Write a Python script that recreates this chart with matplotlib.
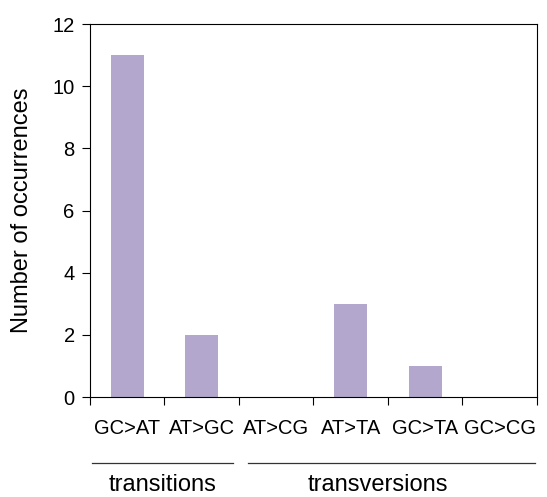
import matplotlib
matplotlib.use("Agg")
import matplotlib.pyplot as plt
import numpy as np

plt.rcParams['font.family'] = ['Liberation Sans', 'DejaVu Sans']

# mutation classes and counts
categories = ["GC>AT", "AT>GC", "AT>CG", "AT>TA", "GC>TA", "GC>CG"]
counts = [11, 2, 0, 3, 1, 0]
groups = ["transitions", "transversions"]
group_sizes = [2, 4]
yticks = [0, 2, 4, 6, 8, 10, 12]

bar_color = "#b4a7ce"

fig = plt.figure(figsize=(5.47, 4.97), dpi=100)
ax = fig.add_axes([0.1645, 0.2012, 0.8172, 0.7505])

x = np.arange(len(categories))
ax.bar(x, counts, width=0.44, color=bar_color, zorder=2)

ax.set_xlim(-0.5, len(categories) - 0.5)
ax.set_ylim(0, 12)
ax.set_yticks(yticks)

# ticks sit on the borders between categories, labels in the middle
ax.set_xticks(np.arange(len(categories) + 1) - 0.5)
ax.set_xticks(x, minor=True)
ax.set_xticklabels([])
ax.set_xticklabels(categories, minor=True)
ax.tick_params(axis='x', which='minor', length=0, pad=16, labelsize=14.5)
ax.tick_params(axis='x', which='major', length=6, width=0.8, direction='out')
ax.tick_params(axis='y', length=6, width=0.8, direction='out', pad=5, labelsize=14.5)

for s in ax.spines.values():
    s.set_linewidth(0.8)
    s.set_color("black")

ax.set_ylabel("Number of occurrences", fontsize=17)
ax.yaxis.set_label_coords(-0.128, 0.5)

# group brackets under the tick labels
start = -0.5
for i, (name, n) in enumerate(zip(groups, group_sizes)):
    end = start + n
    x0 = start + (0.03 if i == 0 else 0.12)
    x1 = end - (0.08 if i == 0 else 0.03)
    ax.plot([x0, x1], [-0.177, -0.177], color="#333333", lw=0.9,
            transform=ax.get_xaxis_transform(), clip_on=False)
    xc = (start + end) / 2 - (0.02 if i == 0 else 0.14)
    ax.text(xc, -0.253, name, fontsize=17, ha='center', va='baseline',
            transform=ax.get_xaxis_transform())
    start = end

fig.savefig("out.png", dpi=100)
